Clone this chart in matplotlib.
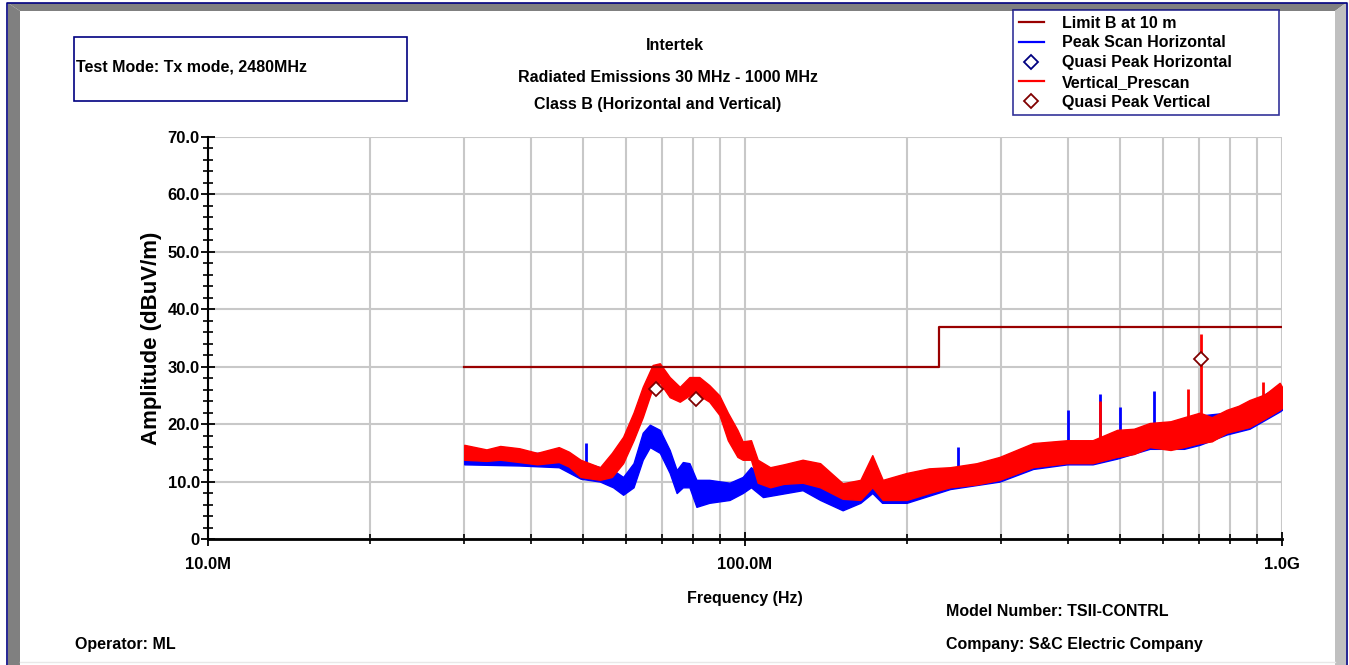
import numpy as np
import matplotlib
matplotlib.use('Agg')
import matplotlib.pyplot as plt
from matplotlib.patches import Rectangle, Polygon
from matplotlib.lines import Line2D
from matplotlib.ticker import FixedLocator, FixedFormatter

plt.rcParams['font.family'] = ['Liberation Sans', 'DejaVu Sans']
plt.rcParams['font.weight'] = 'bold'

# ---------------
# Data (frequency in MHz, level in dBuV/m)

limit_f = [30, 230, 230, 1000]
limit_db = [30, 30, 37, 37]

# Vertical prescan envelope
vert_f = [30, 33, 35, 38, 41, 45, 47, 49.4, 53.7, 56.5, 59.3, 62, 64.5, 67.3, 69.4, 72.4, 75.6,
          78.8, 82.2, 85.8, 89.6, 92.9, 96.8, 99, 102.6, 105.6, 111.4, 118, 128, 138, 152, 164,
          172.6, 180.5, 200, 220, 241, 270, 298, 344, 398, 444, 493, 530, 567, 620, 657, 703,
          740, 789, 830, 870, 930, 990, 1000]
vert_hi = [16.4, 15.6, 16.2, 15.8, 15.0, 16.0, 15.2, 13.8, 12.5, 15.0, 17.8, 22.0, 26.5, 30.3,
           30.6, 28.2, 26.5, 28.2, 28.2, 26.8, 25.0, 22.0, 19.0, 17.0, 17.2, 13.8, 12.5, 13.0,
           13.8, 13.2, 9.7, 10.3, 14.6, 10.3, 11.5, 12.3, 12.5, 13.2, 14.3, 16.7, 17.2, 17.2,
           19.0, 19.2, 20.2, 20.5, 21.2, 22.0, 21.2, 22.5, 23.2, 24.2, 25.2, 27.2, 26.5]
vert_lo = [13.8, 13.6, 13.8, 13.4, 13.0, 13.4, 12.6, 10.8, 10.3, 10.8, 13.2, 17.2, 21.2, 26.3,
           27.2, 24.7, 23.9, 25.0, 25.0, 23.9, 21.6, 17.2, 14.3, 13.8, 13.8, 9.8, 9.0, 9.6,
           9.8, 9.0, 7.0, 6.8, 9.0, 6.8, 6.8, 8.0, 9.0, 9.5, 10.3, 12.5, 13.2, 13.2, 14.3,
           14.8, 16.0, 15.5, 16.0, 16.7, 17.0, 18.5, 19.0, 19.5, 21.0, 22.5, 22.8]

# Horizontal peak scan envelope
horz_f = [30, 38, 45, 49.4, 53.7, 56.8, 59.3, 62, 64.5, 66.5, 69.4, 72.4, 74.6, 76.6, 78.8,
          81.2, 85.8, 93.6, 99, 102.6, 108, 128, 138, 152, 164, 172.6, 180, 200,
          241, 298, 344, 398, 444, 493, 567, 657, 703, 789, 870, 990, 1000]
horz_hi = [15.6, 15.0, 15.0, 13.5, 12.5, 12.0, 10.8, 13.2, 18.5, 19.9, 19.0, 15.5, 12.0, 13.4, 13.2,
           10.3, 10.3, 9.8, 10.8, 12.5, 10.8, 10.8, 10.3, 8.0, 9.0, 11.5, 8.5, 9.0,
           12.0, 13.8, 16.2, 16.7, 16.7, 18.5, 19.7, 20.7, 21.5, 22.0, 23.7, 26.7, 26.0]
horz_lo = [13.0, 12.8, 12.5, 10.5, 10.0, 9.0, 7.7, 9.0, 13.8, 16.0, 15.0, 11.5, 8.0, 9.0, 9.0,
           5.6, 6.3, 6.8, 8.0, 9.0, 7.3, 8.5, 6.8, 5.0, 6.3, 8.0, 6.3, 6.3,
           8.7, 10.0, 12.2, 13.0, 13.0, 14.0, 15.7, 15.7, 16.4, 18.2, 19.2, 22.2, 22.5]

# narrow-band spikes
horz_spk_f = [50.6, 249, 399, 458, 499, 578]
horz_spk_base = [13.0, 11.0, 15.0, 16.0, 16.0, 17.0]
horz_spk_top = [16.7, 16.0, 22.5, 25.2, 23.0, 25.8]
vert_spk_f = [458, 668, 706, 922]
vert_spk_base = [16.0, 18.0, 18.0, 21.0]
vert_spk_top = [24.0, 26.1, 35.7, 27.3]

# quasi peak measurements
qp_horz_f = []
qp_horz_db = []
qp_vert_f = [68.4, 81.1, 706]
qp_vert_db = [26.1, 24.4, 31.3]

xticks_major = [10, 100, 1000]
xtick_labels = ['10.0M', '100.0M', '1.0G']
xticks_minor = [20, 30, 40, 50, 60, 70, 80, 90, 200, 300, 400, 500, 600, 700, 800, 900]
yticks_major = [0, 10, 20, 30, 40, 50, 60, 70]
ytick_labels = ['0', '10.0', '20.0', '30.0', '40.0', '50.0', '60.0', '70.0']

# ---------------
# Figure

W, H = 1349, 665
fig = plt.figure(figsize=(W / 100, H / 100), dpi=100)
fig.patch.set_facecolor('white')

def fx(px):
    return px / W

def fy(py):
    return 1 - py / H

# bevelled frame
tf = fig.transFigure
fig.patches.append(Polygon([(fx(8), fy(3)), (fx(1346), fy(3)), (fx(1335), fy(11)), (fx(20), fy(11))],
                           closed=True, transform=tf, facecolor='#808080', edgecolor='none'))
fig.patches.append(Polygon([(fx(8), fy(3)), (fx(20), fy(11)), (fx(20), fy(665)), (fx(8), fy(665))],
                           closed=True, transform=tf, facecolor='#808080', edgecolor='none'))
fig.patches.append(Polygon([(fx(1346), fy(3)), (fx(1346), fy(665)), (fx(1335), fy(665)), (fx(1335), fy(11))],
                           closed=True, transform=tf, facecolor='#c0c0c0', edgecolor='none'))
fig.lines.append(Line2D([fx(7), fx(7), fx(1347), fx(1347)], [fy(665), fy(3), fy(3), fy(665)],
                        transform=tf, color='#000080', lw=1.2))
fig.lines.append(Line2D([fx(20), fx(1335)], [fy(662), fy(662)], transform=tf, color='#e8e8e8', lw=1))

ax = fig.add_axes([fx(208), fy(539), fx(1074), fy(137) - fy(539)])
ax.set_xscale('log')

# traces
ax.fill_between(horz_f, horz_lo, horz_hi, color='#0000ff', lw=1.0, zorder=3)
ax.vlines(horz_spk_f, horz_spk_base, horz_spk_top, color='#0000ff', lw=2, zorder=3)
ax.fill_between(vert_f, vert_lo, vert_hi, color='#ff0000', lw=1.0, zorder=4)
ax.vlines(vert_spk_f, vert_spk_base, vert_spk_top, color='#ff0000', lw=2, zorder=4)
ax.plot(limit_f, limit_db, color='#990000', lw=1.6, zorder=5)
ax.plot(qp_horz_f, qp_horz_db, ls='none', marker='D', ms=7, mfc='white', mec='#000080', mew=1.3, zorder=6)
ax.plot(qp_vert_f, qp_vert_db, ls='none', marker='D', ms=7, mfc='white', mec='#800000', mew=1.3, zorder=6)

ax.set_xlim(10, 1000)
ax.set_ylim(0, 70)
ax.xaxis.set_major_locator(FixedLocator(xticks_major))
ax.xaxis.set_major_formatter(FixedFormatter(xtick_labels))
ax.xaxis.set_minor_locator(FixedLocator(xticks_minor))
ax.xaxis.set_minor_formatter(FixedFormatter([''] * len(xticks_minor)))
ax.yaxis.set_major_locator(FixedLocator(yticks_major))
ax.yaxis.set_major_formatter(FixedFormatter(ytick_labels))
ax.yaxis.set_minor_locator(FixedLocator(np.arange(0, 70, 2)))

ax.xaxis.grid(True, which='both', color='#c8c8c8', lw=1.5, zorder=0)
ax.yaxis.grid(True, which='major', color='#c8c8c8', lw=1.5, zorder=0)
ax.set_axisbelow(True)
for s in ['top', 'right']:
    ax.spines[s].set_visible(False)
ax.spines['left'].set_linewidth(1.5)
ax.spines['bottom'].set_linewidth(2)

ax.tick_params(axis='both', which='major', direction='inout', length=10, width=1.3,
               labelsize=12, colors='black')
ax.tick_params(axis='both', which='minor', direction='inout', length=7, width=1.2)
ax.tick_params(axis='y', which='major', pad=1)
ax.tick_params(axis='x', which='major', pad=8)

ax.set_xlabel('Frequency (Hz)', fontsize=11.5, fontweight='bold', labelpad=14)
ax.set_ylabel('Amplitude (dBuV/m)', fontsize=16, fontweight='bold', labelpad=4)

# titles
fig.text(fx(675), fy(45), 'Intertek', ha='center', va='center', fontsize=11.5)
fig.text(fx(668), fy(78), 'Radiated Emissions 30 MHz - 1000 MHz', ha='center', va='center', fontsize=11.5)
fig.text(fx(658), fy(105), 'Class B (Horizontal and Vertical)', ha='center', va='center', fontsize=11.5)

# test mode box
fig.patches.append(Rectangle((fx(74), fy(101)), fx(333), fy(37) - fy(101), transform=tf,
                             facecolor='none', edgecolor='#000080', lw=1.2))
fig.text(fx(76), fy(67), 'Test Mode: Tx mode, 2480MHz', ha='left', va='center', fontsize=11.5)

# bottom notes
fig.text(fx(75), fy(645), 'Operator: ML', ha='left', va='center', fontsize=11.5)
fig.text(fx(946), fy(611), 'Model Number: TSII-CONTRL', ha='left', va='center', fontsize=11.5)
fig.text(fx(946), fy(645), 'Company: S&C Electric Company', ha='left', va='center', fontsize=11.5)

# legend
handles = [
    Line2D([], [], color='#990000', lw=1.6),
    Line2D([], [], color='#0000ff', lw=1.6),
    Line2D([], [], ls='none', marker='D', ms=7, mfc='white', mec='#000080', mew=1.3),
    Line2D([], [], color='#ff0000', lw=1.6),
    Line2D([], [], ls='none', marker='D', ms=7, mfc='white', mec='#800000', mew=1.3),
]
labels = ['Limit B at 10 m', 'Peak Scan Horizontal', 'Quasi Peak Horizontal',
          'Vertical_Prescan', 'Quasi Peak Vertical']
leg = fig.legend(handles, labels, loc='upper left',
                 bbox_to_anchor=(fx(1013), fy(108), fx(266), fy(10) - fy(108)),
                 mode='expand', fontsize=11.5, frameon=True, fancybox=False,
                 borderpad=0.35, labelspacing=0.3, handlelength=1.6, handletextpad=1.1,
                 borderaxespad=0)
leg.get_frame().set_edgecolor('#000080')
leg.get_frame().set_linewidth(1.2)

fig.savefig('out.png', dpi=100)
